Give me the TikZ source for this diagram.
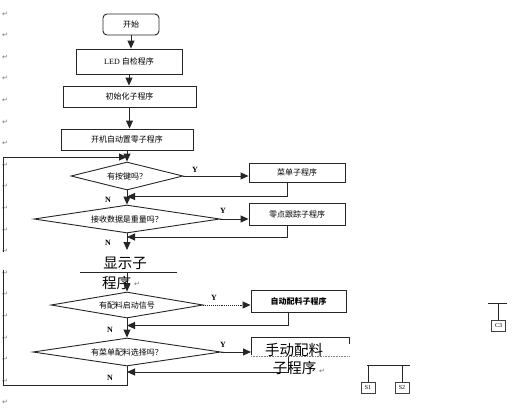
\documentclass[tikz,border=0pt]{standalone}
\usepackage{fontspec}
\setmainfont{Liberation Serif}
\newfontfamily\cjk{Noto Sans CJK SC}
\newfontfamily\djv{DejaVu Sans}
\usetikzlibrary{shapes.geometric,arrows.meta}
\begin{document}
\begin{tikzpicture}[x=1pt,y=-1pt,
  ln/.style={line width=0.9pt,draw=black!85},
  box/.style={draw=black!85,line width=0.9pt,inner sep=0pt,font=\cjk\fontsize{8}{9}\selectfont},
  dec/.style={draw=black!85,diamond,line width=0.9pt,inner sep=0pt,aspect=4,font=\cjk\fontsize{8}{9}\selectfont},
  arr/.style={line width=0.9pt,draw=black!85,-{Triangle[length=8pt,width=7pt]}},
  lab/.style={font=\bfseries\fontsize{8}{8}\selectfont,inner sep=0pt},
  pm/.style={font=\djv\fontsize{7}{7}\selectfont,text=black!55,inner sep=0pt},
  big/.style={font=\cjk\fontsize{14.5}{15}\selectfont,inner sep=0pt},
  tag/.style={draw=black!75,line width=0.6pt,inner sep=0pt,minimum width=14pt,minimum height=11pt,font=\fontsize{6}{6}\selectfont}]
\useasboundingbox (0,0) rectangle (515,416);
\fill[white] (0,0) rectangle (515,416);

% paragraph marks
\foreach \i in {0,...,18} \node[pm] (pm\i) at (5,14+21.6*\i) {↵};

% top chain
\node[box,rounded corners=4pt,minimum width=56pt,minimum height=21pt] (start) at (131,24.5) {开始};
\node[box,minimum width=106pt,minimum height=25pt] (led) at (129,61.5) {\rmfamily LED\ \cjk 自检程序};
\node[box,minimum width=133pt,minimum height=21pt] (init) at (129.5,96.5) {初始化子程序};
\node[box,minimum width=132pt,minimum height=21pt] (zero) at (127,139.5) {开机自动置零子程序};

\node[dec,minimum width=112pt,minimum height=28pt] (d1) at (127,176) {有按键吗？};
\node[dec,minimum width=186pt,minimum height=28pt] (d2) at (127,219) {接收数据是重量吗？};
\node[dec,minimum width=152pt,minimum height=26pt] (d3) at (127,305) {有配料启动信号};
\node[dec,minimum width=188pt,minimum height=28pt] (d4) at (127,352) {有菜单配料选择吗？};

\node[box,minimum width=96pt,minimum height=19pt] (menu) at (297,172.5) {菜单子程序};
\node[box,minimum width=96pt,minimum height=22pt] (track) at (297,214) {零点跟踪子程序};
\node[box,minimum width=95pt,minimum height=22pt] (auto) at (298.5,301) {\bfseries 自动配料子程序};

% display fragment
\node[big] (disp1) at (125,263) {显示子};
\node[big] (disp2) at (116.5,283) {程序};
\node[pm] (pmd) at (137,284) {↵};
\coordinate (dl) at (80,272);
\coordinate (dr) at (177,272);
\coordinate (dc) at (127,272);
\coordinate (dtop) at (127,250);
\draw[ln] (dl) -- (dr);

% manual fragment
\coordinate (mtl) at (251,337);
\coordinate (mtr) at (349,337);
\coordinate (mbl) at (251,355);
\coordinate (mbr) at (349,344);
\draw[ln] (mbl) -- (mtl) -- (mtr) -- (mbr);
\draw[gray,densely dotted,line width=0.6pt] (251,356.5) -- (349,356.5);

% main arrows
\draw[arr] (start.south) -- (start.south |- led.north);
\draw[arr] (led.south) -- (led.south |- init.north);
\draw[arr] (init.south) -- (init.south |- zero.north);
\draw[arr] (zero.south) -- (d1.north);
\draw[arr] (d1.south) -- (d2.north);
\draw[arr] (d2.south) -- (dtop);
\draw[arr] (dc) -- (d3.north);
\draw[arr] (d3.south) -- (d4.north);

\draw[arr] (d1.east) -- (d1.east -| menu.west);
\draw[arr] (d2.east) -- (d2.east -| track.west);
\draw[arr,densely dotted] (d3.east) -- (d3.east -| auto.west);
\draw[arr] (d4.east) -- (d4.east -| mtl);

% returns
\coordinate (r1) at (287,196.5);
\coordinate (r2) at (287,237);
\coordinate (r3) at (288,325.5);
\coordinate (r4) at (288,372);
\coordinate (m4) at (288,357);
\draw[arr] (menu.south -| r1) -- (r1) -- (r1 -| d1.south);
\draw[arr] (track.south -| r2) -- (r2) -- (r2 -| d2.south);
\draw[arr] (auto.south -| r3) -- (r3) -- (r3 -| d3.south);
\draw[arr] (m4) -- (r4) -- (r4 -| d4.south);

% big loop
\coordinate (j1) at (127,157);
\coordinate (b1) at (127,385);
\coordinate (b2) at (3,385);
\coordinate (gapB) at (3,270);
\coordinate (gapT) at (3,252);
\coordinate (b3) at (3,157);
\draw[ln] (d4.south) -- (b1) -- (b2) -- (gapB);
\draw[arr] (gapT) -- (b3) -- (j1);

\node[big] (man1) at (294,349.5) {手动配料};
\node[big] (man2) at (294.5,367.5) {子程序};
\node[pm] (pmm) at (322,371) {↵};

% labels
\node[lab] (y1) at (195,170) {Y};
\node[lab] (n1) at (108,200) {N};
\node[lab] (y2) at (223,211) {Y};
\node[lab] (n2) at (108,243) {N};
\node[lab] (y3) at (214,298) {Y};
\node[lab] (n3) at (110,330) {N};
\node[lab] (y4) at (223,345) {Y};
\node[lab] (n4) at (110,378) {N};

% right fragments
\node[tag] (c3) at (498.5,326) {C3};
\coordinate (c3l) at (488,303);
\coordinate (c3r) at (507,303);
\draw[ln] (c3l) -- (c3r);
\draw[ln] (c3.north) -- (c3.north |- c3l);
\node[tag] (s1) at (368,387.5) {S1};
\node[tag,line width=1pt] (s2) at (402,387.5) {S2};
\coordinate (sl) at (367,365);
\coordinate (sr) at (410,365);
\draw[ln] (sl) -- (sr);
\draw[ln] (s1.north) -- (s1.north |- sl);
\draw[ln] (s2.north) -- (s2.north |- sl);
\end{tikzpicture}
\end{document}
